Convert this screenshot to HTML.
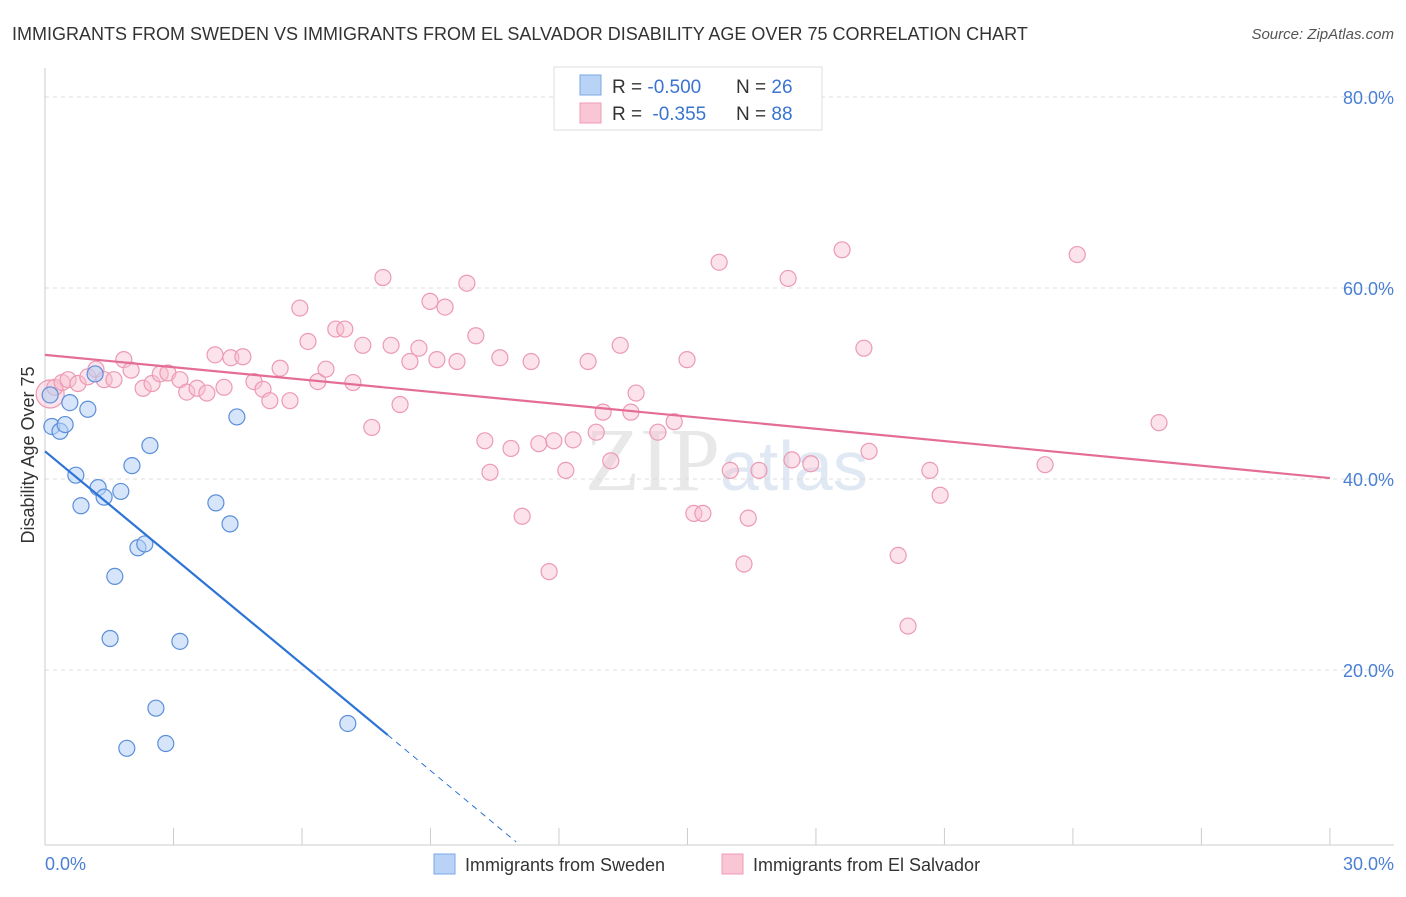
<!DOCTYPE html>
<html><head><meta charset="utf-8"><style>
body{margin:0;background:#fff;font-family:"Liberation Sans",sans-serif;}
</style></head><body>
<svg id="chart" width="1406" height="892" xmlns="http://www.w3.org/2000/svg">
<text x="12" y="40" font-size="18" fill="#333">IMMIGRANTS FROM SWEDEN VS IMMIGRANTS FROM EL SALVADOR DISABILITY AGE OVER 75 CORRELATION CHART</text>
<text x="1394" y="39" font-size="15" fill="#555" font-style="italic" text-anchor="end">Source: ZipAtlas.com</text>
<text x="720" y="490" font-size="90" fill="#e8e8e8" font-family="Liberation Serif" text-anchor="end">ZIP</text>
<text x="720" y="490" font-size="70" fill="#dfe8f3">atlas</text>
<g id="grid"></g>
<g id="axes"></g>
<g id="pts"></g>
<g id="lines"></g>
<text transform="translate(34,455) rotate(-90)" font-size="18" fill="#333" text-anchor="middle">Disability Age Over 75</text>
<text x="45" y="870" font-size="18" fill="#4a7fd4">0.0%</text>
<text x="1394" y="870" font-size="18" fill="#4a7fd4" text-anchor="end">30.0%</text>
<g>
<rect x="554" y="67" width="268" height="63" fill="#fff" stroke="#ddd"/>
<rect x="580" y="75" width="21" height="20" fill="#b8d3f5" stroke="#7aa7e6"/>
<rect x="580" y="103" width="21" height="20" fill="#f9c6d5" stroke="#ef9bb5"/>
<text x="612" y="93" font-size="19" fill="#333">R = <tspan fill="#3a74d0">-0.500</tspan><tspan x="736">N = </tspan><tspan fill="#3a74d0">26</tspan></text>
<text x="612" y="120" font-size="19" fill="#333">R = <tspan fill="#3a74d0" dx="5">-0.355</tspan><tspan x="736">N = </tspan><tspan fill="#3a74d0">88</tspan></text>
</g>
<g>
<rect x="434" y="854" width="21" height="20" fill="#b8d3f5" stroke="#7aa7e6"/>
<text x="465" y="871" font-size="18" fill="#333">Immigrants from Sweden</text>
<rect x="722" y="854" width="21" height="20" fill="#f9c6d5" stroke="#ef9bb5"/>
<text x="753" y="871" font-size="18" fill="#333">Immigrants from El Salvador</text>
</g>
</svg>
<script>
const yTicks=[20,40,60,80];
const xTickVals=[0,3,6,9,12,15,18,21,24,27,30];
const swedenX=[0.12,0.16,0.35,0.47,0.58,1.0,1.17,0.72,0.84,1.24,1.38,1.77,2.03,2.45,2.17,2.33,1.63,1.52,3.15,2.59,1.91,2.82,3.99,4.32,4.48,7.07];
const swedenY=[48.8,45.5,45.0,45.7,48.0,47.3,51.0,40.4,37.2,39.1,38.1,38.7,41.4,43.5,32.8,33.2,29.8,23.3,23.0,16.0,11.8,12.3,37.5,35.3,46.5,14.4];
const salvX=[0.12,0.23,0.4,0.54,0.77,1.0,1.19,1.38,1.61,1.84,2.01,2.29,2.5,2.69,2.87,3.15,3.31,3.55,3.78,3.97,4.18,4.34,4.62,4.88,5.09,5.25,5.49,5.72,5.95,6.14,6.37,6.56,6.79,7.0,7.19,7.42,7.63,7.89,8.08,8.29,8.52,8.73,8.99,9.15,9.34,9.62,9.85,10.06,10.27,10.39,10.62,10.88,11.14,11.35,11.53,11.77,11.88,12.16,12.33,12.68,12.87,13.03,13.21,13.43,13.68,13.8,14.31,14.69,14.99,15.15,15.36,15.74,16.0,16.32,16.42,16.67,17.35,17.44,17.88,18.61,19.12,19.24,19.92,20.15,20.66,20.9,23.35,24.1,26.01];
const salvY=[48.9,49.6,50.1,50.4,50.0,50.7,51.5,50.4,50.4,52.5,51.4,49.5,50.0,51.0,51.1,50.4,49.1,49.5,49.0,53.0,49.6,52.7,52.8,50.2,49.4,48.2,51.6,48.2,57.9,54.4,50.2,51.5,55.7,55.7,50.1,54.0,45.4,61.1,54.0,47.8,52.3,53.7,58.6,52.5,58.0,52.3,60.5,55.0,44.0,40.7,52.7,43.2,36.1,52.3,43.7,30.3,44.0,40.9,44.1,52.3,44.9,47.0,41.9,54.0,47.0,49.0,44.9,46.0,52.5,36.4,36.4,62.7,40.9,31.1,35.9,40.9,61.0,42.0,41.6,64.0,53.7,42.9,32.0,24.6,40.9,38.3,41.5,63.5,45.9];
const blueLine={x0:0,y0:42.9,x1:8.0,y1:13.2,x2:11.0,y2:2.0};
const pinkLine={x0:0,y0:53.0,x1:30,y1:40.1};
const X=v=>45+v*42.83, Y=v=>861-v*9.55;
const NS="http://www.w3.org/2000/svg";
function mk(tag,attrs,parent){const e=document.createElementNS(NS,tag);for(const k in attrs)e.setAttribute(k,attrs[k]);parent.appendChild(e);return e;}
const grid=document.getElementById('grid'),axes=document.getElementById('axes'),pts=document.getElementById('pts'),lines=document.getElementById('lines');
yTicks.forEach(t=>{
 const l=mk('line',{x1:45,x2:1394,y1:Y(t),y2:Y(t),stroke:'#ddd','stroke-dasharray':'4,4'},grid);
 
 
 const tx=mk('text',{x:1394,y:Y(t)+7,'font-size':18,fill:'#4a7fd4','text-anchor':'end'},grid);
 tx.textContent=t.toFixed(1)+'%';
 
 
});
const xa=mk('line',{x1:45,x2:1394,y1:845,y2:845,stroke:'#ccc'},axes);


const ya=mk('line',{x1:45,x2:45,y1:68,y2:845,stroke:'#ccc'},axes);


xTickVals.forEach(t=>{
 const l=mk('line',{x1:X(t),x2:X(t),y1:828,y2:845,stroke:'#ccc'},axes);
 
 
});
salvX.forEach((v,i)=>{
 const c=mk('circle',{cx:X(v),cy:Y(salvY[i]),r:i==0?14:8,fill:'rgba(249,190,208,0.45)',stroke:'#ec9ab4','stroke-width':1.2},pts);
 
 
});
swedenX.forEach((v,i)=>{
 const c=mk('circle',{cx:X(v),cy:Y(swedenY[i]),r:8,fill:'rgba(180,208,245,0.55)',stroke:'#5b8fd9','stroke-width':1.2},pts);
 
 
});
const bl=mk('line',{x1:X(blueLine.x0),y1:Y(blueLine.y0),x2:X(blueLine.x1),y2:Y(blueLine.y1),stroke:'#2d74d6','stroke-width':2.2},lines);


const bd=mk('line',{x1:X(blueLine.x1),y1:Y(blueLine.y1),x2:X(blueLine.x2),y2:Y(blueLine.y2),stroke:'#2d74d6','stroke-width':1,'stroke-dasharray':'6,5'},lines);


const pl=mk('line',{x1:X(pinkLine.x0),y1:Y(pinkLine.y0),x2:X(pinkLine.x1),y2:Y(pinkLine.y1),stroke:'#e46d95','stroke-width':2.2},lines);


</script>
</body></html>
